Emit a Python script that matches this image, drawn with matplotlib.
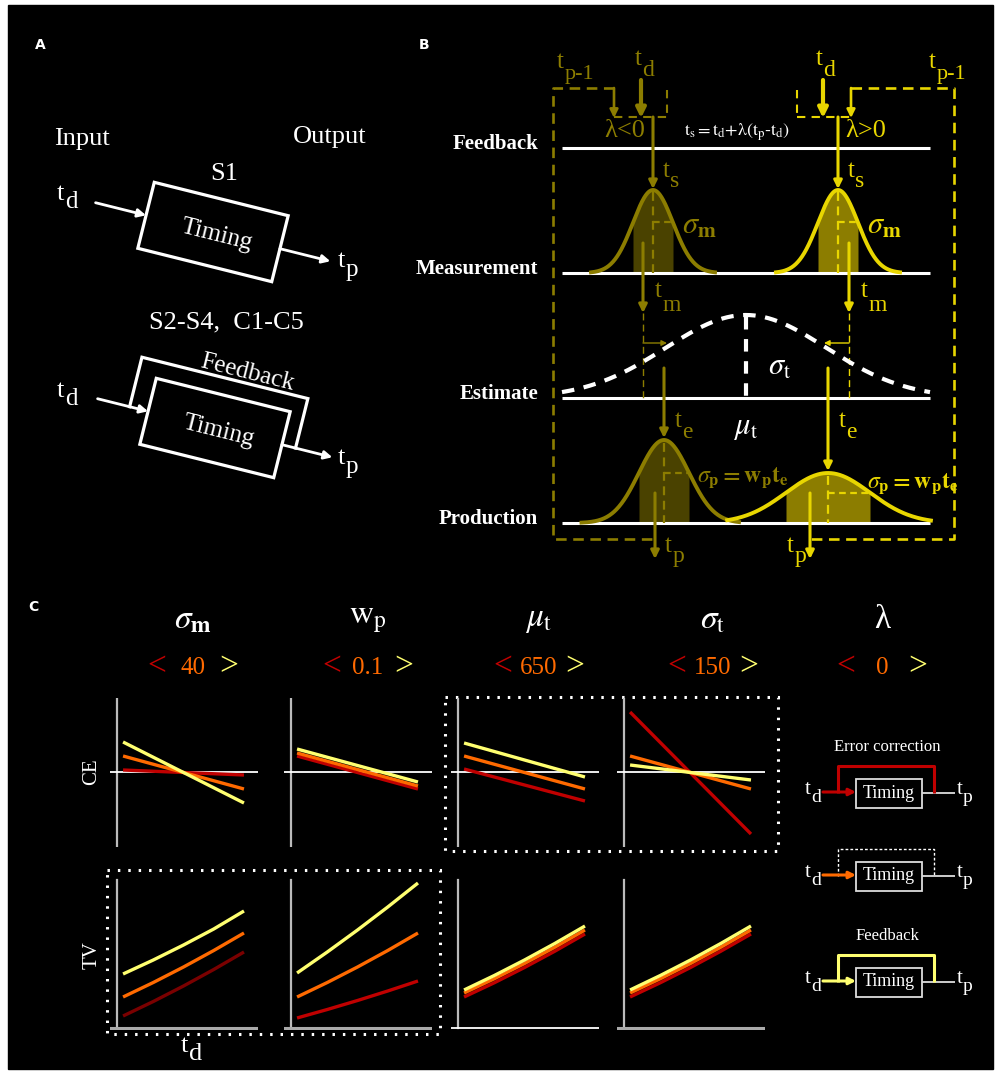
import numpy as np
import matplotlib.pyplot as plt
from matplotlib.patches import Polygon, Rectangle

plt.rcParams['mathtext.fontset'] = 'stix'
plt.rcParams['font.family'] = ['Liberation Serif', 'DejaVu Serif']

W, H = 999, 1074

# ---- panel C data -------------------------------------------------------
TD = [450, 950]                        # t_d at the ends of the CE lines
TD_TV = [450, 575, 700, 825, 950]      # t_d samples of the TV curves
PARAM_NAMES = [r'$\sigma_{\mathbf{m}}$', r'$\mathrm{w_p}$', r'$\mu_{\mathrm{t}}$',
               r'$\sigma_{\mathrm{t}}$', 'λ']
PARAM_VALUES = ['40', '0.1', '650', '150', '0']

# constant error for low (<), nominal and high (>) parameter value
CE_LOW = [[2, -3], [16, -17], [3, -29], [60, -62]]
CE_MID = [[16, -17], [19, -14], [16, -17], [16, -17]]
CE_HIGH = [[30, -31], [23, -10], [29, -5], [7, -8]]

# temporal variability
TV_LOW = [[12, 26.5, 42, 58.5, 76], [10, 18.5, 27.5, 37, 47],
          [31, 45.25, 60.5, 76.75, 94], [31, 45.25, 60.5, 76.75, 94]]
TV_MID = [[31, 45.5, 61, 77.5, 95], [31, 45.5, 61, 77.5, 95],
          [35, 49.25, 64.5, 80.75, 98], [35, 49.25, 64.5, 80.75, 98]]
TV_HIGH = [[54, 68, 83, 99, 117], [55, 76, 98, 121, 145],
           [38, 52.5, 68, 84.5, 102], [38, 52.5, 68, 84.5, 102]]

LOW_C, MID_C, HIGH_C = '#C00000', '#FF6A00', '#FFFF70'
LOW_C_TV = ['#7A0000', LOW_C, LOW_C, LOW_C]

# ---- panel B shapes -----------------------------------------------------
MEAS_SIGMA = 20
PROD_SIGMA = [25, 42]
PROD_HEIGHT = [83, 50]
PRIOR_MU, PRIOR_SIGMA, PRIOR_HEIGHT = 746, 80, 83

OLIVE, OLIVE_FILL = '#8C7D00', '#4A4200'
YEL, YEL_FILL = '#E8D600', '#8C7D00'

fig = plt.figure(figsize=(W / 100, H / 100), dpi=100, facecolor='white')
ax = fig.add_axes([0, 0, 1, 1])
ax.set_xlim(0, W)
ax.set_ylim(H, 0)
ax.axis('off')
ax.add_patch(Rectangle((8, 5), 985, 1064, color='black', zorder=0))


def txt(x, y, s, size=15, color='white', ha='center', va='center', **kw):
    ax.text(x, y, s, fontsize=size, color=color, ha=ha, va=va, **kw)


def tsub(x, y, s, size=18, sub=17, drop=11, color='white'):
    # a "t" with a large, low subscript; x is the left edge, y the baseline
    px = size * 100 / 72
    ax.text(x, y, 't', fontsize=size, color=color, ha='left', va='baseline')
    ax.text(x + 0.29 * px, y + drop, s, fontsize=sub, color=color,
            ha='left', va='baseline')


def arrow(x0, y0, x1, y1, color='white', lw=2, ms=14):
    ax.annotate('', xy=(x1, y1), xytext=(x0, y0),
                arrowprops=dict(arrowstyle='-|>', color=color, lw=lw,
                                mutation_scale=ms, shrinkA=0, shrinkB=0))


def line(xs, ys, color='white', lw=2, ls='-'):
    ax.plot(xs, ys, color=color, lw=lw, ls=ls, solid_capstyle='butt',
            dash_capstyle='butt')


# panel letters
for lab, x, y in [('A', 40, 45), ('B', 424, 45), ('C', 33, 607)]:
    ax.text(x, y, lab, fontsize=10, color='white', ha='center', va='center',
            family='DejaVu Sans', weight='bold')

# ---- panel A ------------------------------------------------------------
TH = np.deg2rad(14)
U = np.array([np.cos(TH), np.sin(TH)])
V = np.array([-np.sin(TH), np.cos(TH)])


def loc(c, pts):
    return [tuple(np.array(c) + a * U + b * V) for a, b in pts]


txt(82, 139, 'Input', 19)
txt(330, 137, 'Output', 19)
txt(224, 174, 'S1', 19)
txt(226, 322, 'S2-S4,  C1-C5', 19)

for c, fb, yb in [((213, 232), False, 200), ((215, 428), True, 397)]:
    box = loc(c, [(-69, -34), (69, -34), (69, 34), (-69, 34)])
    ax.add_patch(Polygon(box, closed=True, fill=False, ec='white', lw=2.3))
    ax.text(*loc(c, [(4, 2)])[0], 'Timing', fontsize=18, color='white',
            rotation=-14, ha='center', va='center', rotation_mode='anchor')
    p0, p1 = loc(c, [(-121, 0), (-69, 0)])
    arrow(*p0, *p1, lw=2, ms=12)
    q0, q1 = loc(c, [(69, 0), (121, 0)])
    arrow(*q0, *q1, lw=2, ms=12)
    tsub(57, yb, 'd', 19, 18, 8)
    tsub(338, yb + 67, 'p', 19, 18, 9)
    if fb:
        path = loc(c, [(-88, 0), (-88, -51), (83, -51), (83, 0)])
        ax.plot([p[0] for p in path], [p[1] for p in path], color='white',
                lw=2.3, solid_joinstyle='miter')
        fp = loc(c, [(18, -50)])[0]
        ax.text(fp[0], fp[1], 'Feedback', fontsize=18, color='white',
                rotation=-14, ha='center', va='bottom', rotation_mode='anchor')

# ---- panel B ------------------------------------------------------------
LEVELS = [('Feedback', 148), ('Measurement', 273), ('Estimate', 398),
          ('Production', 523)]
for name, y in LEVELS:
    line([562, 930], [y, y], 'white', 2.2)
    txt(538, y - 4, name, 15, ha='right', weight='bold')

DASH = (0, (4, 2.5))
# outer feedback loops
line([614, 553, 553, 655], [88, 88, 539, 539], OLIVE, 1.9, DASH)
line([851, 954, 954, 810], [88, 88, 539, 539], YEL, 1.9, DASH)
arrow(614, 88, 614, 118, OLIVE, 1.9, 12)
arrow(851, 88, 851, 118, YEL, 1.9, 12)
# small brackets
line([614, 667], [117, 117], OLIVE, 1.5, (0, (4, 3)))
line([667, 667], [90, 117], OLIVE, 1.5, (0, (4, 3)))
line([797, 851], [117, 117], YEL, 1.5, (0, (4, 3)))
line([797, 797], [90, 117], YEL, 1.5, (0, (4, 3)))
# target interval arrows
arrow(641, 80, 641, 118, OLIVE, 3, 14)
arrow(823, 80, 823, 118, YEL, 3, 14)
tsub(635, 65, 'd', color=OLIVE)
tsub(816, 65, 'd', color=YEL)
tsub(557, 68, 'p-1', 18, 16, 11, OLIVE)
tsub(929, 68, 'p-1', 18, 16, 11, YEL)
txt(625, 131, 'λ<0', 19, OLIVE)
txt(866, 131, 'λ>0', 19, YEL)
txt(737, 132, r'$\mathrm{t_s = t_d{+}\lambda(t_p{\text{-}}t_d)}$', 13)


def bell(mu, sig, h, base, color, fill, span=(3.1, 3.1)):
    x = np.linspace(mu - span[0] * sig, mu + span[1] * sig, 300)
    y = base - h * np.exp(-0.5 * ((x - mu) / sig) ** 2)
    xs = np.linspace(mu - sig, mu + sig, 100)
    ys = base - h * np.exp(-0.5 * ((xs - mu) / sig) ** 2)
    ax.fill_between(xs, ys, base, color=fill, lw=0)
    ax.plot(x, y, color=color, lw=2.8)
    return base - h * np.exp(-0.5)


# measurement stage
for mu, col, fill in [(653, OLIVE, OLIVE_FILL), (838, YEL, YEL_FILL)]:
    arrow(mu, 117, mu, 189, col, 2.2, 12)
    tsub(mu + 10, 177, 's', 18, 17, 10, col)
    bell(mu, MEAS_SIGMA, 83, 273, col, fill)
    line([mu, mu], [192, 273], col, 1.6, (0, (4, 2.5)))
    line([mu, mu + MEAS_SIGMA], [222, 222], col, 1.6, (0, (3, 2)))
    txt(mu + 29, 226, r'$\sigma_{\mathbf{m}}$', 22, col, ha='left')

# measurement samples feeding the estimate stage
for x, col, xe in [(643, OLIVE, 667), (849, YEL, 824)]:
    arrow(x, 243, x, 313, col, 2.2, 12)
    tsub(x + 12, 297, 'm', 18, 17, 14, col)
    line([x, x], [313, 398], col, 1.0, (0, (5, 3)))
    arrow(x, 343, xe, 343, col, 1.0, 8)

# prior
xp = np.linspace(562, 930, 400)
yp = 398 - PRIOR_HEIGHT * np.exp(-0.5 * ((xp - PRIOR_MU) / PRIOR_SIGMA) ** 2)
ax.plot(xp, yp, color='white', lw=3, ls=(0, (3, 2.3)))
line([PRIOR_MU, PRIOR_MU], [317, 398], 'white', 3, (0, (3, 2.3)))
txt(780, 367, r'$\sigma_{\mathrm{t}}$', 22)
txt(745, 428, r'$\mu_{\mathrm{t}}$', 22)

# production stage
for i, (mu, col, fill, span) in enumerate([(664, OLIVE, OLIVE_FILL, (3.3, 3.0)),
                                           (828, YEL, YEL_FILL, (2.4, 2.45))]):
    h = PROD_HEIGHT[i]
    sig = PROD_SIGMA[i]
    arrow(mu, 368, mu, 523 - h - 2, col, 2.2, 12)
    tsub(mu + 11, 427, 'e', 18, 17, 11, col)
    ysig = bell(mu, sig, h, 523, col, fill, span)
    line([mu, mu], [523 - h + 3, 523], col, 1.6, (0, (4, 2.5)))
    line([mu, mu + sig], [ysig, ysig], col, 1.6, (0, (3, 2)))
lbl = r'$\sigma_{\mathbf{p}}\mathbf{=w_p t_e}$'
txt(697, 478, lbl, 17, OLIVE, ha='left')
txt(867, 484, lbl, 17, YEL, ha='left')

arrow(655, 493, 655, 559, OLIVE, 2.2, 12)
arrow(810, 493, 810, 559, YEL, 2.2, 12)
tsub(665, 552, 'p', 18, 17, 10, OLIVE)
tsub(787, 552, 'p', 18, 17, 10, YEL)

# ---- panel C ------------------------------------------------------------
COL_X = [193, 368, 539, 713, 882]
for x, name, val in zip(COL_X, PARAM_NAMES, PARAM_VALUES):
    txt(x, 620, name, 24)
    txt(x - 36, 667, '<', 24, LOW_C)
    txt(x, 668, val, 18, MID_C)
    txt(x + 36, 667, '>', 24, HIGH_C)

# dotted frames around the parameters that matter
ax.add_patch(Rectangle((445, 697), 333, 154, fill=False, ec='white',
                       lw=2.2, ls=(0, (0.8, 2.6))))
ax.add_patch(Rectangle((107, 870), 333, 164, fill=False, ec='white',
                       lw=2.2, ls=(0, (0.8, 2.6))))

txt(92, 772, 'CE', 15, rotation=90)
txt(92, 955, 'TV', 15, rotation=90)
tsub(181, 1052, 'd', 19, 19, 8)

PANEL_L = [110, 284, 451, 617]
XLIM = (396, 1008)
for k, L in enumerate(PANEL_L):
    ce = fig.add_axes([L / W, 1 - 847 / H, 148 / W, 149 / H])
    ce.set_facecolor('none')
    ce.set_xlim(*XLIM)
    ce.set_ylim(-75, 74)
    ce.axis('off')
    ce.axvline(425, color='#BBBBBB', lw=1.6)
    ce.axhline(0, color='white', lw=1.3)
    for vals, c in [(CE_LOW[k], LOW_C), (CE_MID[k], MID_C), (CE_HIGH[k], HIGH_C)]:
        ce.plot(TD, vals, color=c, lw=2.4, solid_capstyle='butt')

    tv = fig.add_axes([L / W, 1 - 1030 / H, 148 / W, 152 / H])
    tv.set_facecolor('none')
    tv.set_xlim(*XLIM)
    tv.set_ylim(-2, 150)
    tv.axis('off')
    tv.plot([425, 425], [0, 148], color='#BBBBBB', lw=1.6)
    tv.axhline(0, color='white' if k == 2 else '#AAAAAA', lw=1.3 if k == 2 else 2.2)
    for vals, c in [(TV_LOW[k], LOW_C_TV[k]), (TV_MID[k], MID_C), (TV_HIGH[k], HIGH_C)]:
        tv.plot(TD_TV, vals, color=c, lw=2.4, solid_capstyle='butt',
                solid_joinstyle='round')

# loop schematics for the lambda column
LOOPS = [(793, LOW_C, '-', 2.2, 'Error correction'),
         (876, MID_C, (0, (2, 1.5)), 1.0, None),
         (982, HIGH_C, '-', 2.2, 'Feedback')]
for yc, col, ls, lw, title in LOOPS:
    loop_col = 'white' if title is None else col
    ax.add_patch(Rectangle((856, yc - 14.5), 66, 29, fill=False,
                           ec='#DDDDDD', lw=1.3))
    txt(889, yc, 'Timing', 13)
    line([922, 955], [yc, yc], '#DDDDDD', 1.3)
    line([838, 838, 934, 934], [yc, yc - 27, yc - 27, yc], loop_col, lw, ls)
    arrow(823, yc - 1, 856, yc - 1, col, 2.2, 10)
    tsub(805, yc + 1, 'd', 15, 14, 8)
    tsub(957, yc + 1, 'p', 15, 14, 8)
    if title:
        txt(887, yc - 46, title, 12)

fig.savefig('out.png', dpi=100, facecolor='white')
